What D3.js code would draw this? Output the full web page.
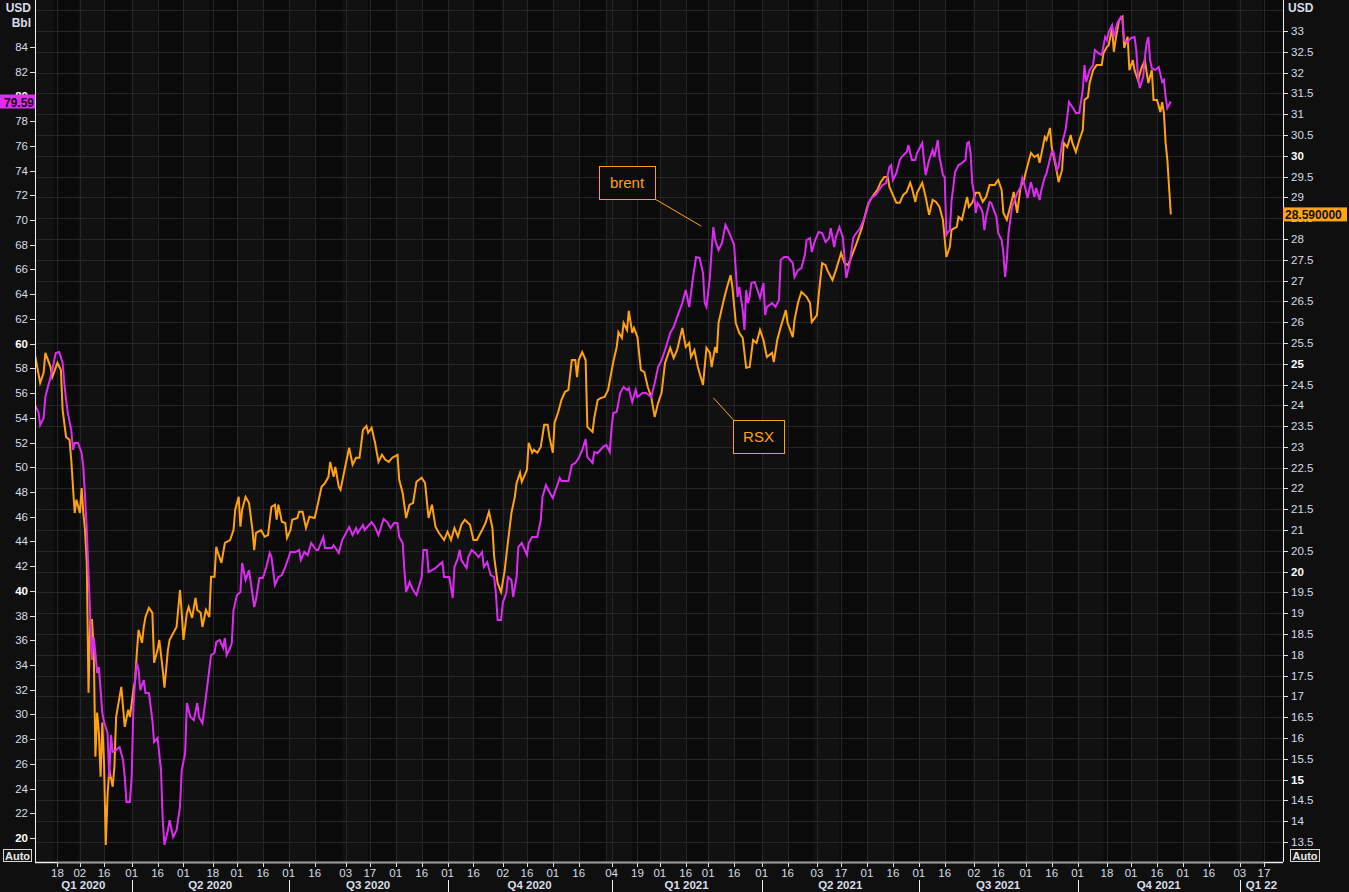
<!DOCTYPE html>
<html>
<head>
<meta charset="utf-8">
<script src="https://cdn.jsdelivr.net/npm/d3@7"></script>
<style>
  html, body { margin: 0; padding: 0; background: #0f0f0f; overflow: hidden; }
  svg { display: block; font-family: "Liberation Sans", Arial, sans-serif; }
</style>
</head>
<body>
<svg id="chart" width="1349" height="892"></svg>
<script>
// Brent, USD/bbl (left axis)
const brent = [
["2020-02-05",55.03],["2020-02-07",54.47],["2020-02-08",53.41],["2020-02-10",53.98],["2020-02-11",55.68],["2020-02-12",56.25],["2020-02-14",57.30],["2020-02-15",57.86],["2020-02-17",59.24],["2020-02-19",59.32],["2020-02-21",58.43],["2020-02-22",56.81],["2020-02-23",55.44],["2020-02-24",54.38],["2020-02-26",53.01],["2020-02-27",51.39],["2020-02-28",51.96],["2020-03-01",51.96],["2020-03-03",51.15],["2020-03-04",50.02],["2020-03-05",47.59],["2020-03-06",44.92],["2020-03-07",41.44],["2020-03-08",37.88],["2020-03-09",34.40],["2020-03-10",36.26],["2020-03-11",34.97],["2020-03-12",33.35],["2020-03-13",33.83],["2020-03-14",31.97],["2020-03-15",30.11],["2020-03-16",29.38],["2020-03-18",28.49],["2020-03-19",24.93],["2020-03-20",28.33],["2020-03-21",26.96],["2020-03-23",27.12],["2020-03-25",27.36],["2020-03-27",26.31],["2020-03-28",24.93],["2020-03-29",22.91],["2020-03-31",22.91],
["2020-04-01",24.93],["2020-04-02",30.60],["2020-04-03",32.78],["2020-04-04",34.16],["2020-04-05",33.59],["2020-04-06",31.97],["2020-04-08",32.78],["2020-04-09",31.73],["2020-04-11",31.73],["2020-04-13",29.54],["2020-04-14",27.76],["2020-04-16",28.09],["2020-04-18",25.50],["2020-04-19",21.45],["2020-04-20",19.43],["2020-04-22",20.64],["2020-04-23",21.45],["2020-04-25",20.08],["2020-04-27",20.64],["2020-04-29",22.51],["2020-04-30",25.50],["2020-05-02",26.87],["2020-05-03",30.92],["2020-05-05",29.79],["2020-05-07",29.54],["2020-05-09",30.92],["2020-05-10",29.79],["2020-05-12",29.30],["2020-05-14",31.41],["2020-05-15",32.54],["2020-05-17",34.80],["2020-05-19",34.97],["2020-05-20",35.86],["2020-05-22",36.02],["2020-05-24",35.37],["2020-05-25",36.18],["2020-05-26",34.80],["2020-05-28",35.37],["2020-05-29",35.77],["2020-05-30",38.44],["2020-06-01",39.66],["2020-06-03",39.90],["2020-06-04",42.25],["2020-06-06",40.87],["2020-06-08",41.68],["2020-06-11",38.69],["2020-06-12",39.25],["2020-06-14",41.03],["2020-06-16",41.03],["2020-06-18",41.92],["2020-06-20",43.06],["2020-06-21",42.73],["2020-06-23",40.47],["2020-06-25",41.11],["2020-06-27",41.28],["2020-06-29",41.92],
["2020-07-02",43.14],["2020-07-05",43.14],["2020-07-07",43.30],["2020-07-08",42.49],["2020-07-10",43.14],["2020-07-12",42.89],["2020-07-14",43.87],["2020-07-17",43.30],["2020-07-18",43.30],["2020-07-21",44.35],["2020-07-22",43.46],["2020-07-26",43.46],["2020-07-27",43.70],["2020-07-30",43.06],["2020-08-01",44.11],["2020-08-05",45.16],["2020-08-07",44.51],["2020-08-09",45.08],["2020-08-10",44.67],["2020-08-13",45.32],["2020-08-14",44.92],["2020-08-18",45.56],["2020-08-20",45.16],["2020-08-22",44.51],["2020-08-25",45.81],["2020-08-27",45.56],["2020-08-29",45.08],["2020-08-31",45.48],["2020-09-02",45.48],["2020-09-03",44.35],["2020-09-05",43.87],["2020-09-06",41.68],["2020-09-07",39.90],["2020-09-09",40.71],["2020-09-11",40.06],["2020-09-13",39.66],["2020-09-16",41.11],["2020-09-17",43.30],["2020-09-19",43.30],["2020-09-20",41.52],["2020-09-24",41.84],["2020-09-28",42.33],["2020-09-29",41.11],
["2020-10-02",41.11],["2020-10-04",39.42],["2020-10-05",41.92],["2020-10-07",42.65],["2020-10-08",43.30],["2020-10-09",42.49],["2020-10-12",41.84],["2020-10-13",42.73],["2020-10-15",43.30],["2020-10-17",43.06],["2020-10-19",42.73],["2020-10-21",43.14],["2020-10-22",41.92],["2020-10-24",42.33],["2020-10-26",41.28],["2020-10-28",41.11],["2020-10-29",39.82],["2020-10-30",37.64],["2020-11-01",37.64],["2020-11-02",39.01],["2020-11-04",39.82],["2020-11-05",41.11],["2020-11-07",40.87],["2020-11-08",39.50],["2020-11-10",41.11],["2020-11-11",43.54],["2020-11-13",43.87],["2020-11-16",42.89],["2020-11-17",43.87],["2020-11-19",44.35],["2020-11-22",44.35],["2020-11-24",45.73],["2020-11-25",47.59],["2020-11-27",48.56],["2020-11-29",47.99],["2020-12-01",47.51],["2020-12-03",48.32],["2020-12-05",49.13],["2020-12-06",48.88],["2020-12-10",48.88],["2020-12-12",50.18],["2020-12-14",50.34],["2020-12-16",50.74],["2020-12-18",51.39],["2020-12-20",52.28],["2020-12-21",50.82],["2020-12-24",50.34],["2020-12-25",51.23],["2020-12-27",51.15],["2020-12-30",51.63],
["2021-01-01",51.80],["2021-01-03",51.23],["2021-01-04",53.17],["2021-01-05",54.38],["2021-01-07",54.47],["2021-01-09",56.00],["2021-01-11",56.49],["2021-01-13",56.25],["2021-01-14",56.41],["2021-01-16",55.27],["2021-01-18",56.25],["2021-01-19",55.68],["2021-01-22",56.00],["2021-01-24",56.00],["2021-01-27",55.68],["2021-01-29",56.81],["2021-01-31",58.11],["2021-02-02",58.67],["2021-02-04",59.48],["2021-02-07",60.86],["2021-02-09",61.34],["2021-02-11",62.15],["2021-02-14",63.28],["2021-02-16",64.34],["2021-02-18",62.96],["2021-02-20",65.15],["2021-02-22",67.01],["2021-02-24",66.93],["2021-02-26",65.71],["2021-02-27",63.28],["2021-02-28",62.96],["2021-03-02",65.39],["2021-03-03",67.57],["2021-03-04",69.43],["2021-03-05",68.38],["2021-03-07",67.57],["2021-03-09",68.14],["2021-03-11",69.60],["2021-03-13",69.03],["2021-03-16",67.98],["2021-03-17",65.95],["2021-03-18",63.77],["2021-03-19",64.58],["2021-03-21",62.72],["2021-03-22",61.10],["2021-03-23",64.34],["2021-03-24",63.28],["2021-03-25",63.77],["2021-03-26",64.90],["2021-03-28",64.98],["2021-03-29",64.58],["2021-03-31",63.69],
["2021-04-02",64.90],["2021-04-03",62.31],["2021-04-04",62.96],["2021-04-07",63.28],["2021-04-09",62.96],["2021-04-11",63.53],["2021-04-12",66.76],["2021-04-14",67.01],["2021-04-16",67.01],["2021-04-19",66.52],["2021-04-20",65.39],["2021-04-22",65.95],["2021-04-24",66.12],["2021-04-26",67.17],["2021-04-27",68.38],["2021-04-29",68.54],["2021-04-30",67.41],["2021-05-02",68.38],["2021-05-04",69.03],["2021-05-06",68.95],["2021-05-08",68.22],["2021-05-10",68.54],["2021-05-11",69.35],["2021-05-13",67.82],["2021-05-14",68.62],["2021-05-16",69.43],["2021-05-18",68.62],["2021-05-19",66.93],["2021-05-20",65.31],["2021-05-22",66.52],["2021-05-24",68.54],["2021-05-25",68.79],["2021-05-28",69.35],["2021-05-30",70.00],["2021-06-01",70.81],["2021-06-02",71.38],["2021-06-04",71.86],["2021-06-06",72.02],["2021-06-08",72.43],["2021-06-10",72.83],["2021-06-12",72.99],["2021-06-14",74.29],["2021-06-15",74.45],["2021-06-16",73.24],["2021-06-18",73.80],["2021-06-20",74.85],["2021-06-21",75.10],["2021-06-24",75.50],["2021-06-25",76.07],["2021-06-27",74.85],["2021-06-29",74.85],["2021-06-30",75.42],
["2021-07-03",76.23],["2021-07-04",74.85],["2021-07-05",73.64],["2021-07-07",74.85],["2021-07-09",75.66],["2021-07-10",75.10],["2021-07-12",76.47],["2021-07-13",75.10],["2021-07-15",73.64],["2021-07-16",73.48],["2021-07-17",68.79],["2021-07-18",69.03],["2021-07-19",69.19],["2021-07-20",71.62],["2021-07-21",72.67],["2021-07-22",73.88],["2021-07-24",74.45],["2021-07-26",74.61],["2021-07-28",74.85],["2021-07-29",76.23],["2021-07-30",76.31],["2021-07-31",75.42],["2021-08-01",72.99],["2021-08-02",72.18],["2021-08-03",70.57],["2021-08-04",71.38],["2021-08-06",70.97],["2021-08-07",70.57],["2021-08-08",69.19],["2021-08-09",70.24],["2021-08-11",71.46],["2021-08-12",71.38],["2021-08-15",70.24],["2021-08-16",68.95],["2021-08-18",68.38],["2021-08-19",67.33],["2021-08-20",65.39],["2021-08-21",66.76],["2021-08-22",68.95],["2021-08-24",71.05],["2021-08-25",71.38],["2021-08-27",72.18],["2021-08-29",72.67],["2021-08-30",73.40],["2021-08-31",72.99],["2021-09-02",71.78],["2021-09-04",73.07],["2021-09-06",71.86],["2021-09-07",72.59],["2021-09-09",71.62],["2021-09-10",72.43],["2021-09-12",73.48],["2021-09-13",73.80],["2021-09-16",75.50],["2021-09-17",75.50],["2021-09-19",74.05],["2021-09-20",74.29],["2021-09-22",76.23],["2021-09-24",77.28],["2021-09-25",78.33],["2021-09-26",79.55],["2021-09-28",79.14],["2021-09-30",78.66],
["2021-10-02",78.66],["2021-10-04",80.52],["2021-10-05",82.54],["2021-10-06",81.17],["2021-10-08",82.14],["2021-10-10",82.54],["2021-10-11",83.75],["2021-10-13",83.51],["2021-10-15",83.35],["2021-10-17",84.81],["2021-10-18",84.56],["2021-10-19",85.21],["2021-10-21",85.78],["2021-10-22",84.81],["2021-10-24",85.94],["2021-10-26",86.42],["2021-10-27",86.18],["2021-10-28",84.56],["2021-10-30",84.40],["2021-11-01",84.73],["2021-11-03",84.81],["2021-11-04",83.75],["2021-11-05",81.57],["2021-11-06",80.68],["2021-11-08",81.57],["2021-11-09",83.19],["2021-11-10",84.32],["2021-11-11",84.81],["2021-11-12",82.95],["2021-11-13",82.30],["2021-11-15",82.14],["2021-11-17",82.38],["2021-11-19",81.17],["2021-11-20",81.33],["2021-11-21",79.95],["2021-11-22",79.06],["2021-11-24",79.59]
];

// RSX, USD (right axis)
const rsx = [
["2020-02-05",25.21],["2020-02-08",24.54],["2020-02-10",24.78],["2020-02-11",25.26],["2020-02-14",24.92],["2020-02-15",24.68],["2020-02-18",25.02],["2020-02-20",24.85],["2020-02-21",23.89],["2020-02-23",23.24],["2020-02-25",23.17],["2020-02-26",22.69],["2020-02-27",22.04],["2020-02-28",21.41],["2020-02-29",21.73],["2020-03-02",21.41],["2020-03-03",22.01],["2020-03-04",21.41],["2020-03-05",21.00],["2020-03-06",20.21],["2020-03-07",17.09],["2020-03-08",18.84],["2020-03-09",18.84],["2020-03-10",18.19],["2020-03-11",15.55],["2020-03-12",16.61],["2020-03-13",16.13],["2020-03-14",15.07],["2020-03-15",16.37],["2020-03-16",15.40],["2020-03-17",13.43],["2020-03-18",14.59],["2020-03-19",15.24],["2020-03-21",14.83],["2020-03-22",15.31],["2020-03-23",16.51],["2020-03-24",16.75],["2020-03-26",17.23],["2020-03-27",16.75],["2020-03-28",16.27],["2020-03-30",16.68],["2020-03-31",16.51],
["2020-04-02",17.16],["2020-04-03",17.40],["2020-04-04",18.05],["2020-04-05",18.60],["2020-04-07",18.29],["2020-04-08",18.67],["2020-04-09",18.91],["2020-04-11",19.13],["2020-04-13",19.01],["2020-04-14",17.81],["2020-04-16",18.12],["2020-04-17",18.36],["2020-04-19",17.64],["2020-04-20",17.21],["2020-04-22",18.12],["2020-04-23",18.36],["2020-04-27",18.67],["2020-04-29",19.56],["2020-04-30",19.01],["2020-05-01",18.36],["2020-05-03",19.01],["2020-05-04",19.15],["2020-05-06",18.89],["2020-05-08",19.37],["2020-05-09",19.08],["2020-05-11",19.01],["2020-05-12",18.67],["2020-05-14",19.08],["2020-05-16",18.91],["2020-05-17",19.88],["2020-05-19",19.88],["2020-05-20",20.60],["2020-05-21",20.45],["2020-05-23",20.21],["2020-05-25",20.69],["2020-05-28",20.76],["2020-05-30",21.00],["2020-05-31",21.49],["2020-06-02",21.80],["2020-06-03",21.08],["2020-06-04",21.49],["2020-06-06",21.80],["2020-06-08",21.65],["2020-06-10",21.00],["2020-06-11",20.52],["2020-06-12",20.93],["2020-06-15",21.00],["2020-06-17",20.84],["2020-06-19",20.88],["2020-06-21",21.56],["2020-06-23",21.61],["2020-06-24",21.25],["2020-06-25",21.61],["2020-06-27",21.20],["2020-06-29",21.17],["2020-06-30",20.81],
["2020-07-02",21.00],["2020-07-03",21.25],["2020-07-06",21.29],["2020-07-07",21.44],["2020-07-09",21.44],["2020-07-11",21.05],["2020-07-13",21.32],["2020-07-16",21.29],["2020-07-18",21.65],["2020-07-20",22.04],["2020-07-22",22.13],["2020-07-24",22.28],["2020-07-25",22.64],["2020-07-27",22.28],["2020-07-28",22.52],["2020-07-30",22.04],["2020-07-31",21.97],["2020-08-02",22.38],["2020-08-05",22.98],["2020-08-07",22.57],["2020-08-09",22.74],["2020-08-11",22.74],["2020-08-13",23.41],["2020-08-15",23.50],["2020-08-16",23.34],["2020-08-18",23.46],["2020-08-20",23.10],["2020-08-22",22.64],["2020-08-24",22.81],["2020-08-26",22.69],["2020-08-28",22.64],["2020-08-30",22.74],["2020-09-02",22.81],["2020-09-03",22.21],["2020-09-05",21.89],["2020-09-07",21.29],["2020-09-09",21.61],["2020-09-11",21.65],["2020-09-13",22.16],["2020-09-16",22.26],["2020-09-18",22.13],["2020-09-20",21.29],["2020-09-22",21.61],["2020-09-24",21.08],["2020-09-26",20.93],["2020-09-29",20.76],
["2020-10-01",20.96],["2020-10-03",20.76],["2020-10-05",21.05],["2020-10-07",20.84],["2020-10-09",21.13],["2020-10-11",21.25],["2020-10-14",21.13],["2020-10-16",20.76],["2020-10-18",20.76],["2020-10-21",21.00],["2020-10-23",21.17],["2020-10-25",21.44],["2020-10-27",21.05],["2020-10-28",20.36],["2020-10-30",19.73],["2020-11-01",19.51],["2020-11-03",20.00],["2020-11-05",20.72],["2020-11-07",21.41],["2020-11-09",21.80],["2020-11-10",22.13],["2020-11-12",22.38],["2020-11-13",22.16],["2020-11-16",22.45],["2020-11-17",23.10],["2020-11-19",22.86],["2020-11-20",22.93],["2020-11-22",22.86],["2020-11-24",23.00],["2020-11-26",23.53],["2020-11-28",23.53],["2020-11-29",23.24],["2020-12-01",22.86],["2020-12-02",23.58],["2020-12-04",23.82],["2020-12-06",24.13],["2020-12-08",24.32],["2020-12-10",24.37],["2020-12-12",25.09],["2020-12-14",25.09],["2020-12-15",24.68],["2020-12-16",25.09],["2020-12-18",25.28],["2020-12-20",25.09],["2020-12-21",23.48],["2020-12-24",23.36],["2020-12-25",23.70],["2020-12-27",24.13],["2020-12-29",24.18],["2020-12-31",24.20],
["2021-01-02",24.37],["2021-01-05",25.04],["2021-01-07",25.40],["2021-01-08",25.76],["2021-01-10",25.62],["2021-01-11",25.98],["2021-01-13",25.81],["2021-01-14",26.27],["2021-01-16",25.74],["2021-01-17",25.86],["2021-01-19",25.64],["2021-01-21",24.85],["2021-01-23",24.80],["2021-01-25",24.44],["2021-01-27",24.20],["2021-01-29",23.72],["2021-01-31",24.06],["2021-02-02",24.30],["2021-02-04",25.02],["2021-02-07",25.38],["2021-02-09",25.14],["2021-02-11",25.33],["2021-02-14",25.86],["2021-02-16",25.40],["2021-02-18",25.50],["2021-02-19",25.16],["2021-02-21",25.33],["2021-02-23",24.92],["2021-02-26",24.49],["2021-02-28",25.38],["2021-03-02",25.26],["2021-03-03",24.92],["2021-03-05",25.40],["2021-03-06",25.26],["2021-03-07",25.98],["2021-03-10",26.53],["2021-03-12",26.85],["2021-03-14",27.13],["2021-03-15",26.85],["2021-03-17",25.98],["2021-03-19",25.74],["2021-03-21",25.62],["2021-03-23",24.90],["2021-03-25",24.92],["2021-03-27",25.57],["2021-03-29",25.50],["2021-03-31",25.81],
["2021-04-02",25.57],["2021-04-04",25.16],["2021-04-07",25.26],["2021-04-08",25.04],["2021-04-10",25.57],["2021-04-12",25.88],["2021-04-15",26.29],["2021-04-16",25.98],["2021-04-19",25.64],["2021-04-20",26.05],["2021-04-22",26.46],["2021-04-24",26.73],["2021-04-27",26.61],["2021-04-29",26.46],["2021-04-30",26.00],["2021-05-03",26.17],["2021-05-04",26.65],["2021-05-06",27.42],["2021-05-08",27.37],["2021-05-09",27.25],["2021-05-12",27.01],["2021-05-14",27.25],["2021-05-17",27.66],["2021-05-19",27.42],["2021-05-21",27.37],["2021-05-23",27.57],["2021-05-26",27.90],["2021-05-29",28.26],["2021-06-01",28.75],["2021-06-02",28.87],["2021-06-04",29.01],["2021-06-07",29.18],["2021-06-09",29.37],["2021-06-11",29.49],["2021-06-13",29.49],["2021-06-14",29.25],["2021-06-16",29.06],["2021-06-18",28.87],["2021-06-20",28.87],["2021-06-22",29.06],["2021-06-24",29.13],["2021-06-26",29.35],["2021-06-27",29.23],["2021-06-29",28.89],["2021-06-30",29.11],
["2021-07-03",29.35],["2021-07-05",29.01],["2021-07-07",28.58],["2021-07-09",28.94],["2021-07-11",28.89],["2021-07-13",28.77],["2021-07-15",28.46],["2021-07-17",27.57],["2021-07-19",27.81],["2021-07-20",28.22],["2021-07-23",28.29],["2021-07-24",28.53],["2021-07-26",28.46],["2021-07-29",29.01],["2021-07-30",28.77],["2021-08-01",28.87],["2021-08-03",29.11],["2021-08-05",29.11],["2021-08-07",28.89],["2021-08-09",29.01],["2021-08-11",29.30],["2021-08-14",29.30],["2021-08-16",29.42],["2021-08-18",29.18],["2021-08-19",28.63],["2021-08-21",28.46],["2021-08-24",28.94],["2021-08-25",29.13],["2021-08-27",28.63],["2021-08-29",29.25],["2021-08-31",29.42],["2021-09-01",29.61],["2021-09-04",30.07],["2021-09-06",29.97],["2021-09-08",30.02],["2021-09-09",29.83],["2021-09-12",30.45],["2021-09-13",30.38],["2021-09-15",30.67],["2021-09-16",30.21],["2021-09-19",29.61],["2021-09-20",29.37],["2021-09-22",29.66],["2021-09-23",30.31],["2021-09-25",30.21],["2021-09-27",30.50],["2021-09-28",30.31],["2021-09-30",30.09],
["2021-10-02",30.38],["2021-10-04",30.62],["2021-10-05",31.34],["2021-10-07",31.41],["2021-10-08",31.75],["2021-10-10",32.06],["2021-10-12",32.18],["2021-10-15",32.18],["2021-10-16",32.47],["2021-10-18",32.62],["2021-10-19",32.66],["2021-10-21",33.07],["2021-10-22",32.50],["2021-10-23",32.78],["2021-10-25",33.26],["2021-10-27",33.34],["2021-10-28",32.59],["2021-10-30",32.86],["2021-10-31",32.06],["2021-11-02",32.30],["2021-11-03",32.06],["2021-11-05",31.82],["2021-11-07",32.11],["2021-11-09",32.30],["2021-11-10",32.01],["2021-11-11",31.75],["2021-11-13",32.06],["2021-11-14",31.34],["2021-11-16",31.34],["2021-11-18",31.05],["2021-11-19",31.29],["2021-11-20",31.03],["2021-11-21",30.31],["2021-11-22",29.90],["2021-11-23",29.25],["2021-11-24",28.59]
];

// bottom axis tick dates and quarter blocks
const xTicks = ["2020-02-18","2020-03-02","2020-03-16","2020-04-01","2020-04-16","2020-05-01","2020-05-18","2020-06-01","2020-06-16",
  "2020-07-01","2020-07-16","2020-08-03","2020-08-17","2020-09-01","2020-09-16","2020-10-01","2020-10-16","2020-11-02","2020-11-16",
  "2020-12-01","2020-12-16","2021-01-04","2021-01-19","2021-02-01","2021-02-16","2021-03-01","2021-03-16","2021-04-01","2021-04-16",
  "2021-05-03","2021-05-17","2021-06-01","2021-06-16","2021-07-01","2021-07-16","2021-08-02","2021-08-16","2021-09-01","2021-09-16",
  "2021-10-01","2021-10-18","2021-11-01","2021-11-16","2021-12-01","2021-12-16","2022-01-03","2022-01-17"];
const quarterStarts = ["2020-04-01","2020-07-01","2020-10-01","2021-01-04","2021-04-01","2021-07-01","2021-10-01","2022-01-03"];
const quarterLabels = ["Q1 2020","Q2 2020","Q3 2020","Q4 2020","Q1 2021","Q2 2021","Q3 2021","Q4 2021","Q1 22"];

const leftTicks = d3.range(20, 85, 2);
const rightTicks = d3.range(13.5, 33.01, 0.5);
const lastBrent = "79.59", lastRsx = "28.590000";

// annotations: label, anchor date, anchor value, which axis
const notes = [
  {text: "brent", date: "2021-02-25", value: 69.5, axis: "left",  dx: -46, dy: -27},
  {text: "RSX",   date: "2021-03-04", value: 24.18, axis: "right", dx: 20,  dy: 22}
];

const parse = d3.timeParse("%Y-%m-%d");
const plot = {left: 35, right: 1283, top: 0, bottom: 862};
const labelColor = "#d6dee8";

const x = d3.scaleTime()
  .domain([parse("2020-02-05"), parse("2022-01-28")])
  .range([plot.left, plot.right]);
const yL = d3.scaleLinear().domain([20, 84]).range([838, 47]);
const yR = d3.scaleLinear().domain([13.5, 33]).range([842, 31]);

const svg = d3.select("#chart");

svg.append("defs").append("clipPath").attr("id", "plotclip")
  .append("rect")
    .attr("x", plot.left).attr("y", plot.top)
    .attr("width", plot.right - plot.left).attr("height", plot.bottom - plot.top);

const g = svg.append("g").attr("clip-path", "url(#plotclip)");

g.append("rect")
  .attr("x", plot.left).attr("y", plot.top)
  .attr("width", plot.right - plot.left).attr("height", plot.bottom - plot.top)
  .attr("fill", "#0a0a0a");

// lighter band for first half of each month
let months = d3.timeMonth.range(new Date(2020, 1, 1), new Date(2022, 1, 1));
g.selectAll("rect.band")
  .data(months)
  .enter()
  .append("rect")
    .attr("class", "band")
    .attr("x", d => x(d))
    .attr("y", plot.top)
    .attr("width", d => x(new Date(d.getFullYear(), d.getMonth(), 16)) - x(d))
    .attr("height", plot.bottom - plot.top)
    .attr("fill", "#111111");

// grid
let gridR = d3.range(13.5, 33.6, 0.5);
g.selectAll("line.hgrid")
  .data(gridR)
  .enter()
  .append("line")
    .attr("x1", plot.left).attr("x2", plot.right)
    .attr("y1", d => Math.round(yR(d)) + 0.5).attr("y2", d => Math.round(yR(d)) + 0.5)
    .attr("stroke", "#262626");

g.selectAll("line.vgrid")
  .data(xTicks.concat(["2021-01-01"]))
  .enter()
  .append("line")
    .attr("x1", d => Math.round(x(parse(d))) + 0.5).attr("x2", d => Math.round(x(parse(d))) + 0.5)
    .attr("y1", plot.top).attr("y2", plot.bottom)
    .attr("stroke", "#262626");

// series
let rsxPts = rsx.map(d => ({date: parse(d[0]), v: d[1]}));
let brentPts = brent.map(d => ({date: parse(d[0]), v: d[1]}));

g.append("path")
  .datum(rsxPts)
  .attr("d", d3.line().x(d => x(d.date)).y(d => yR(d.v)))
  .attr("fill", "none")
  .attr("stroke", "#ffa212")
  .attr("stroke-width", 2)
  .attr("stroke-linejoin", "miter");

g.append("path")
  .datum(brentPts)
  .attr("d", d3.line().x(d => x(d.date)).y(d => yL(d.v)))
  .attr("fill", "none")
  .attr("stroke", "#dc2cf2")
  .attr("stroke-width", 2)
  .attr("stroke-linejoin", "miter");

// annotations
notes.forEach(n => {
  let ax = x(parse(n.date));
  let ay = n.axis === "left" ? yL(n.value) : yR(n.value);
  let bw = n.text === "brent" ? 56 : 51, bh = 33;
  let bx, by, lx, ly;
  if (n.dx < 0) { lx = ax + n.dx; ly = ay + n.dy; bx = lx - bw; by = ly - bh; }
  else { lx = ax + n.dx; ly = ay + n.dy; bx = lx; by = ly; }
  svg.append("line")
    .attr("x1", ax).attr("y1", ay).attr("x2", lx).attr("y2", ly)
    .attr("stroke", "#ffa212").attr("stroke-width", 1);
  svg.append("rect")
    .attr("x", Math.round(bx) + 0.5).attr("y", Math.round(by) + 0.5)
    .attr("width", bw).attr("height", bh)
    .attr("fill", "#0c0c0c").attr("stroke", "#ffa212");
  svg.append("text")
    .attr("x", Math.round(bx) + bw / 2).attr("y", Math.round(by) + bh / 2 + 5)
    .attr("text-anchor", "middle")
    .attr("font-size", 15)
    .attr("fill", "#ffa212")
    .text(n.text);
});

// left axis
svg.append("line")
  .attr("x1", plot.left + 0.5).attr("x2", plot.left + 0.5)
  .attr("y1", 0).attr("y2", plot.bottom)
  .attr("stroke", "#f0f0f0");
let la = svg.append("g");
la.selectAll("line")
  .data(leftTicks)
  .enter()
  .append("line")
    .attr("x1", plot.left - 5).attr("x2", plot.left)
    .attr("y1", d => Math.round(yL(d)) + 0.5).attr("y2", d => Math.round(yL(d)) + 0.5)
    .attr("stroke", "#e0e0e0");
la.selectAll("text")
  .data(leftTicks)
  .enter()
  .append("text")
    .attr("x", plot.left - 7)
    .attr("y", d => yL(d) + 4)
    .attr("text-anchor", "end")
    .attr("font-size", 11.5)
    .attr("font-weight", d => d % 20 === 0 ? "bold" : "normal")
    .attr("fill", d => d % 20 === 0 ? "#ffffff" : labelColor)
    .text(d => d);

svg.append("text").attr("x", 31).attr("y", 12).attr("text-anchor", "end")
  .attr("font-size", 12).attr("font-weight", "bold").attr("fill", labelColor).text("USD");
svg.append("text").attr("x", 31).attr("y", 27).attr("text-anchor", "end")
  .attr("font-size", 12).attr("font-weight", "bold").attr("fill", labelColor).text("Bbl");

// right axis
svg.append("line")
  .attr("x1", plot.right + 0.5).attr("x2", plot.right + 0.5)
  .attr("y1", 0).attr("y2", plot.bottom)
  .attr("stroke", "#f0f0f0");
let ra = svg.append("g");
ra.selectAll("line")
  .data(rightTicks)
  .enter()
  .append("line")
    .attr("x1", plot.right).attr("x2", plot.right + 5)
    .attr("y1", d => Math.round(yR(d)) + 0.5).attr("y2", d => Math.round(yR(d)) + 0.5)
    .attr("stroke", "#e0e0e0");
ra.selectAll("text")
  .data(rightTicks)
  .enter()
  .append("text")
    .attr("x", plot.right + 8)
    .attr("y", d => yR(d) + 4)
    .attr("font-size", 11.5)
    .attr("font-weight", d => d % 5 === 0 ? "bold" : "normal")
    .attr("fill", d => d % 5 === 0 ? "#ffffff" : labelColor)
    .text(d => d % 1 ? d.toFixed(1) : d);
svg.append("text").attr("x", 1288).attr("y", 12)
  .attr("font-size", 12).attr("font-weight", "bold").attr("fill", labelColor).text("USD");

// last value tags
let ty = yL(+lastBrent);
svg.append("rect").attr("x", 0).attr("y", ty - 7).attr("width", plot.left).attr("height", 14).attr("fill", "#e02cf5");
svg.append("text").attr("x", plot.left - 1).attr("y", ty + 5).attr("text-anchor", "end")
  .attr("font-size", 12).attr("font-weight", "bold").attr("fill", "#111").text(lastBrent);
let ty2 = yR(+lastRsx);
svg.append("rect").attr("x", plot.right).attr("y", ty2 - 7).attr("width", 64).attr("height", 14).attr("fill", "#ffa512");
svg.append("text").attr("x", plot.right + 2).attr("y", ty2 + 5)
  .attr("font-size", 12).attr("font-weight", "bold").attr("fill", "#111").text(lastRsx);

// bottom axis: grey between first and last tick, white at the ends
let firstTick = x(parse(xTicks[0])), lastTick = x(parse(xTicks[xTicks.length - 1]));
svg.append("line")
  .attr("x1", plot.left).attr("x2", plot.right)
  .attr("y1", plot.bottom + 0.5).attr("y2", plot.bottom + 0.5)
  .attr("stroke", "#f0f0f0").attr("stroke-width", 1.5);
svg.append("line")
  .attr("x1", firstTick).attr("x2", lastTick)
  .attr("y1", plot.bottom + 0.5).attr("y2", plot.bottom + 0.5)
  .attr("stroke", "#9a9a9a").attr("stroke-width", 1.5);
let ba = svg.append("g");
ba.selectAll("line")
  .data(xTicks)
  .enter()
  .append("line")
    .attr("x1", d => Math.round(x(parse(d))) + 0.5).attr("x2", d => Math.round(x(parse(d))) + 0.5)
    .attr("y1", plot.bottom + 1).attr("y2", plot.bottom + 5)
    .attr("stroke", "#e0e0e0");
ba.selectAll("text")
  .data(xTicks)
  .enter()
  .append("text")
    .attr("x", d => x(parse(d)))
    .attr("y", 877)
    .attr("text-anchor", "middle")
    .attr("font-size", 11.5)
    .attr("fill", labelColor)
    .text(d => d3.timeFormat("%d")(parse(d)));

let qEdges = [plot.left].concat(quarterStarts.map(d => x(parse(d)))).concat([plot.right]);
ba.selectAll("line.q")
  .data(quarterStarts)
  .enter()
  .append("line")
    .attr("x1", d => Math.round(x(parse(d))) + 0.5).attr("x2", d => Math.round(x(parse(d))) + 0.5)
    .attr("y1", 880).attr("y2", 892)
    .attr("stroke", "#f0f0f0");
ba.selectAll("text.q")
  .data(quarterLabels)
  .enter()
  .append("text")
    .attr("x", (d, i) => (qEdges[i] + qEdges[i + 1]) / 2)
    .attr("y", 889)
    .attr("text-anchor", "middle")
    .attr("font-size", 11.5)
    .attr("font-weight", "bold")
    .attr("fill", labelColor)
    .text(d => d);

// Auto boxes
[[3, 28], [1290, 29]].forEach(b => {
  svg.append("rect").attr("x", b[0] + 0.5).attr("y", 849.5).attr("width", b[1]).attr("height", 12)
    .attr("fill", "#141414").attr("stroke", "#d8d8d8");
  svg.append("text").attr("x", b[0] + b[1] / 2 + 0.5).attr("y", 860).attr("text-anchor", "middle")
    .attr("font-size", 11).attr("font-weight", "bold").attr("fill", "#e8e8e8").text("Auto");
});
</script>
</body>
</html>
